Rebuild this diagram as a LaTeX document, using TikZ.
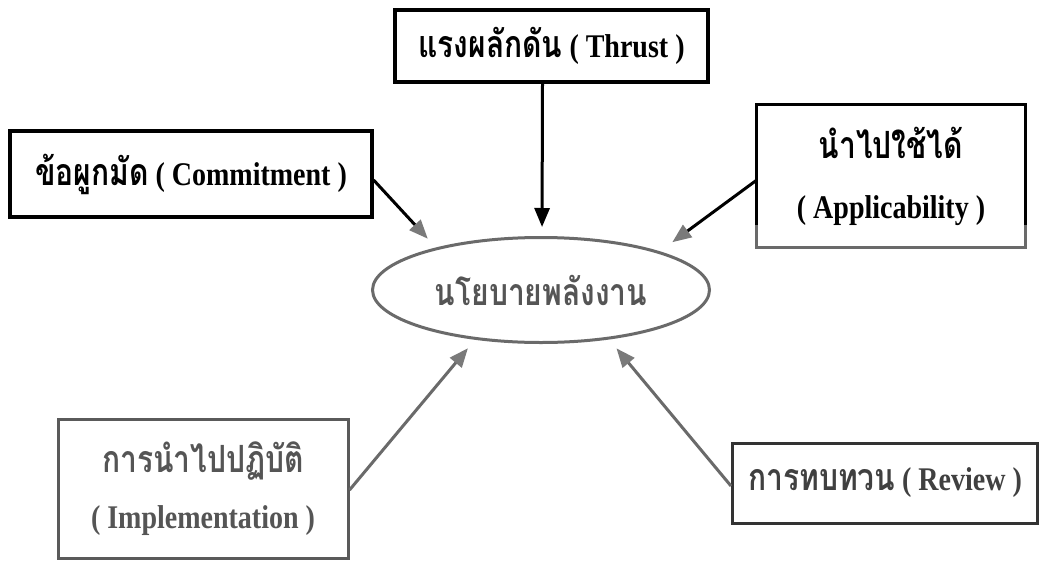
\documentclass[tikz,border=0pt]{standalone}
\usepackage{fontspec}
\setmainfont{Liberation Serif}
\newfontfamily\thfont[Script=Thai]{Loma}
\usetikzlibrary{shapes.geometric,arrows.meta}
\definecolor{gline}{HTML}{6A6A6A}
\definecolor{ghead}{HTML}{7A7A7A}
\definecolor{gtext}{HTML}{555555}
\definecolor{gbox}{HTML}{5A5A5A}
\newcommand{\tht}[1]{\scalebox{1}[1.25]{\fontsize{30}{34}\thfont\bfseries #1}}
\newcommand{\lat}[1]{\scalebox{1}[1.18]{#1}}
\begin{document}
\begin{tikzpicture}[x=1pt,y=-1pt,
  txt/.style={font=\fontsize{28}{32}\selectfont\bfseries, align=center, inner sep=0pt},
  bbox/.style={txt, draw=black, line width=3.2pt, rectangle},
  graybox/.style={txt, draw=gbox, line width=3pt, rectangle, text=gtext},
  oval/.style={txt, ellipse, draw=gline, line width=3pt, text=gtext},
  blackarrow/.style={draw=black, line width=3pt, -{Triangle[length=19pt,width=15pt,color=ghead]}},
  grayarrow/.style={draw=gline, line width=3pt, -{Triangle[length=19pt,width=15pt,color=ghead]}},
  thrustarrow/.style={draw=black, line width=3pt, -{Triangle[length=19pt,width=15pt]}}
]
\useasboundingbox[fill=white] (0,0) rectangle (1041,560);

\node[bbox, minimum width=362pt, minimum height=86pt] (commit) at (191,174)
  {\tht{ข้อผูกมัด} \lat{( Commitment )}};
\node[bbox, minimum width=313pt, minimum height=72pt] (thrust) at (551.5,46)
  {\tht{แรงผลักดัน} \lat{( Thrust )}};
\node[txt, minimum width=268pt, minimum height=142pt] (apply) at (891,176)
  {\tht{นำไปใช้ได้}\\[28pt] \lat{( Applicability )}};
\draw[black, line width=3.2pt] ([yshift=22pt]apply.south west) -- (apply.north west)
  -- (apply.north east) -- ([yshift=22pt]apply.south east);
\draw[gline, line width=3.2pt] ([yshift=22pt]apply.south west) -- (apply.south west)
  -- (apply.south east) -- ([yshift=22pt]apply.south east);

\node[oval, minimum width=337pt, minimum height=105pt] (policy) at (541,290)
  {\tht{นโยบายพลังงาน}};

\node[graybox, minimum width=290pt, minimum height=139pt] (impl) at ( 203,489)
  {\tht{การนำไปปฏิบัติ}\\[24pt] \lat{( Implementation )}};
\node[graybox, draw=black!80, minimum width=305pt, minimum height=80pt, text=black!75] (review) at (885,483)
  {\tht{การทบทวน} \lat{( Review )}};

\draw[thrustarrow, shorten >=9pt] ([xshift=-9pt]thrust.south) -- ([xshift=1pt]policy.north);
\draw[blackarrow, shorten >=12pt] ([yshift=-6pt]commit.east) -- (policy.158);
\draw[blackarrow, shorten >=15.5pt] ([yshift=-4pt]apply.west) -- (policy.18);
\draw[grayarrow, shorten >=11pt] ([yshift=-1pt]impl.east) -- (policy.217);
\draw[grayarrow, shorten >=11.5pt] ([yshift=-3pt]review.west) -- (policy.324);
\end{tikzpicture}
\end{document}
